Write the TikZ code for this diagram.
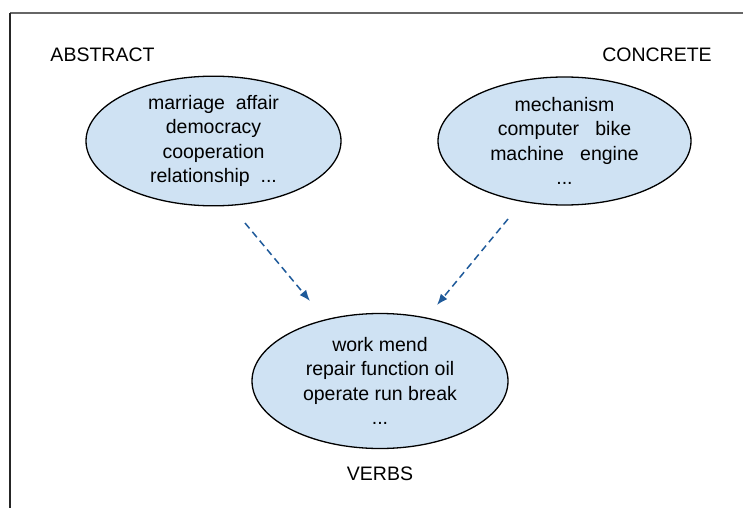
\documentclass[tikz,border=0pt]{standalone}
\usepackage{fontspec}
\setmainfont{Liberation Sans}
\usetikzlibrary{shapes.geometric,arrows.meta}
\definecolor{ellfill}{HTML}{CFE2F3}
\definecolor{arrblue}{HTML}{1F5A9A}
\definecolor{framegray}{HTML}{666666}
\begin{document}
\begin{tikzpicture}[x=1pt,y=-1pt,
  txt/.style={font=\fontsize{19.5}{24.5}\selectfont, inner sep=0pt, align=center},
  cloud/.style={ellipse, draw=black, line width=1.3pt, fill=ellfill, txt},
  link/.style={draw=arrblue, line width=1.5pt, dash pattern=on 7pt off 4.5pt, -{Latex[length=11pt,width=8.5pt]}}
]
\useasboundingbox (0,0) rectangle (743,508);
% frame
\draw[framegray, line width=1.2pt] (10,13) -- (743,13);
\draw[black!85, line width=1.5pt] (10,13) -- (10,508);
% ellipses
\node[cloud, minimum width=255pt, minimum height=128pt] (abs) at (213.5,141)
  {marriage\ \ affair\\democracy\\cooperation\\relationship\ \ ...};
\node[cloud, minimum width=253pt, minimum height=128pt] (con) at (564.5,141)
  {mechanism\\computer\ \ \ bike\\machine\ \ \ engine\\...};
\node[cloud, minimum width=256pt, minimum height=135pt] (verbs) at (380,381)
  {work mend\\repair function oil\\operate run break\\...};
% labels
\node[txt] (labA) at (102.5,55) {ABSTRACT};
\node[txt] (labC) at (657,55) {CONCRETE};
\node[txt] (labV) at (380,474) {VERBS};
% arrows
\coordinate (a1) at (245,223);
\coordinate (a2) at (310,301);
\coordinate (c1) at (508,219);
\coordinate (c2) at (437,305);
\draw[link] (a1) -- (a2);
\draw[link] (c1) -- (c2);
\end{tikzpicture}
\end{document}
